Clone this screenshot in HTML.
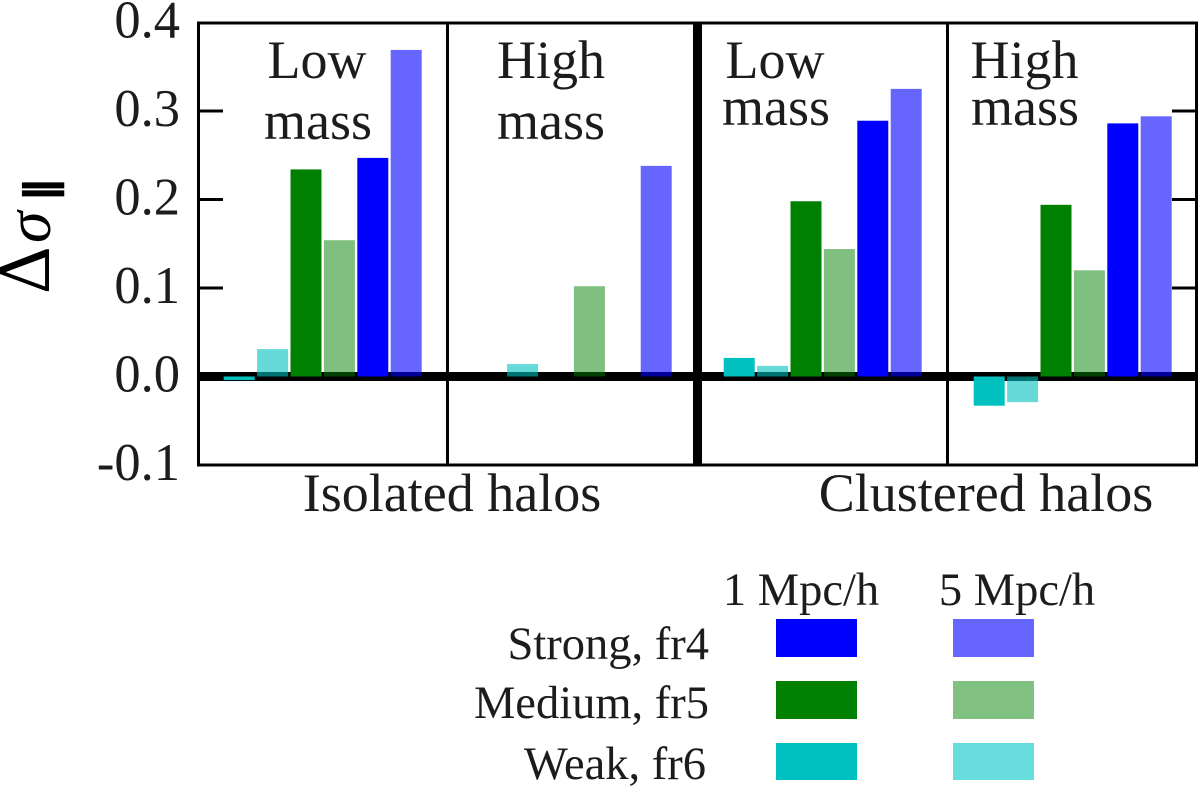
<!DOCTYPE html>
<html lang="en">
<head>
<meta charset="utf-8">
<title>Delta sigma parallel bar chart</title>
<style>
html,body{margin:0;padding:0;background:#fff;width:1200px;height:794px;overflow:hidden}
svg{display:block}
text{font-family:"Liberation Serif","DejaVu Serif",serif;fill:#1c1c1c}
</style>
</head>
<body>
<svg id="chart" width="1200" height="794" viewBox="0 0 1200 794" xmlns="http://www.w3.org/2000/svg">
  <g id="bars"></g>
  <g id="axes"></g>
  <g id="marks-top"></g>
  <g id="ticks"></g>

  <g>
    <text transform="translate(49,294) rotate(-90)" font-size="74" style="fill:#000">Δ</text>
    <text transform="translate(50,243) rotate(-90)" font-size="64" font-style="italic" style="fill:#000">σ</text>
    <text transform="translate(55,200.5) rotate(-90)" font-size="42" font-weight="bold" style="fill:#000;stroke:#000;stroke-width:1.2;font-family:'DejaVu Sans',sans-serif">∥</text>
  </g>

  <g font-size="54">
    <text x="317" y="78" text-anchor="middle">Low</text>
    <text x="318" y="139" text-anchor="middle">mass</text>
    <text x="551" y="78" text-anchor="middle">High</text>
    <text x="551" y="139" text-anchor="middle">mass</text>
    <text x="775" y="78" text-anchor="middle">Low</text>
    <text x="776" y="125" text-anchor="middle">mass</text>
    <text x="1024.5" y="78" text-anchor="middle">High</text>
    <text x="1025" y="125" text-anchor="middle">mass</text>
  </g>

  <g font-size="54">
    <text x="452" y="511" text-anchor="middle">Isolated halos</text>
    <text x="986" y="511" text-anchor="middle">Clustered halos</text>
  </g>

  <g font-size="46.5">
    <text x="801" y="605" text-anchor="middle">1 Mpc/h</text>
    <text x="1017" y="605" text-anchor="middle">5 Mpc/h</text>
    <text x="709" y="659" text-anchor="end">Strong, fr4</text>
    <text x="709" y="718" text-anchor="end">Medium, fr5</text>
    <text x="706" y="779" text-anchor="end">Weak, fr6</text>
    <rect x="776" y="619" width="81" height="38" fill="#0000ff"/>
    <rect x="953" y="619" width="81" height="38" fill="#6666ff"/>
    <rect x="776" y="681" width="81" height="38" fill="#008000"/>
    <rect x="953" y="681" width="81" height="38" fill="#80c080"/>
    <rect x="776" y="743" width="81" height="37" fill="#00c0c0"/>
    <rect x="953" y="743" width="81" height="37" fill="#66dcdc"/>
  </g>
</svg>
<script>
// Chart data
var panels = ['isolated-low', 'isolated-high', 'clustered-low', 'clustered-high'];
var seriesNames = ['weak-1', 'weak-5', 'medium-1', 'medium-5', 'strong-1', 'strong-5'];
var weak1 = [-0.004, null, 0.021, -0.033];
var weak5 = [0.031, 0.014, 0.012, -0.029];
var medium1 = [0.234, null, 0.198, 0.194];
var medium5 = [0.154, 0.102, 0.144, 0.120];
var strong1 = [0.247, null, 0.289, 0.286];
var strong5 = [0.369, 0.238, 0.325, 0.294];
var tickValues = [0.4, 0.3, 0.2, 0.1, 0.0, -0.1];
var tickLabels = ['0.4', '0.3', '0.2', '0.1', '0.0', '-0.1'];

var allSeries = [weak1, weak5, medium1, medium5, strong1, strong5];
var colors = ['#00c0c0', '#00c0c0', '#008000', '#008000', '#0000ff', '#0000ff'];
var opacities = [1, 0.6, 1, 0.5, 1, 0.6];

var NS = 'http://www.w3.org/2000/svg';
function yScale(v) { return 376.5 - v * 885; }
function xBar(panelIndex, seriesIndex) { return 223.7 + panelIndex * 250 + seriesIndex * 33.4; }
function make(parent, tag, attrs) {
  var el = document.createElementNS(NS, tag);
  for (var k in attrs) { el.setAttribute(k, attrs[k]); }
  parent.appendChild(el);
  return el;
}

var axes = document.getElementById('axes');
var ticks = document.getElementById('ticks');
var barsUnder = document.getElementById('bars');
var barsOver = document.getElementById('marks-top');

// translucent bars sit under the axis line, opaque bars above it
seriesNames.forEach(function (name, s) {
  panels.forEach(function (panel, p) {
    var v = allSeries[s][p];
    if (v === null) { return; }
    var y0 = yScale(0), y1 = yScale(v);
    var parent = opacities[s] === 1 ? barsOver : barsUnder;
    var r = make(parent, 'rect', {
      x: xBar(p, s), y: Math.min(y0, y1), width: 31, height: Math.abs(y1 - y0),
      fill: colors[s], 'fill-opacity': 1
    });
    
    
    if (opacities[s] !== 1) {
      // translucent fill drawn on top of the black zero line
      var o = make(barsOver, 'rect', {
        x: xBar(p, s), y: Math.min(y0, y1), width: 31, height: Math.abs(y1 - y0),
        fill: colors[s], 'fill-opacity': opacities[s]
      });
      
      
      r.setAttribute('fill', '#fff');
    }
  });
});

// frame, dividers, zero line
var frame = make(axes, 'rect', { x: 198.5, y: 23, width: 998, height: 442, fill: 'none', stroke: '#000', 'stroke-width': 3 });



var zero = make(axes, 'rect', { x: 198, y: yScale(0) - 4.5, width: 999, height: 9, fill: '#000' });



var d1 = make(axes, 'rect', { x: 446, y: 23, width: 3, height: 442, fill: '#000' });



var d2 = make(axes, 'rect', { x: 693, y: 23, width: 9, height: 442, fill: '#000' });



var d3 = make(axes, 'rect', { x: 946, y: 23, width: 3, height: 442, fill: '#000' });



// ticks and tick labels
tickValues.forEach(function (v, i) {
  var y = yScale(v);
  if (i > 0) {
    var l = make(ticks, 'rect', { x: 198, y: y - 1.5, width: 25, height: 3, fill: '#000' });
    
    
    var r = make(ticks, 'rect', { x: 1172, y: y - 1.5, width: 25, height: 3, fill: '#000' });
    
    
  }
  var t = make(ticks, 'text', { x: 180, y: y + 15, 'text-anchor': 'end', 'font-size': 52.5 });
  
  
  t.textContent = tickLabels[i];
});
</script>
</body>
</html>
